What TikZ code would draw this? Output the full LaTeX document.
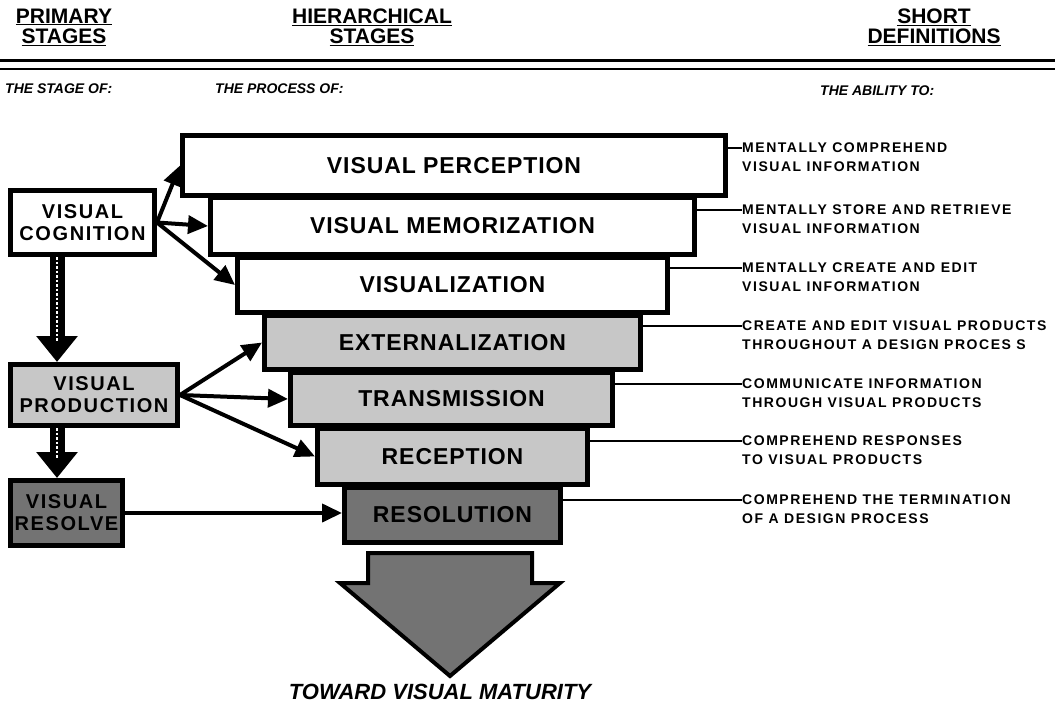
\documentclass[tikz,border=0pt]{standalone}
\usepackage{fontspec}
\setmainfont{Liberation Sans}
\newfontfamily\stagefont[LetterSpace=4]{Liberation Sans}
\newfontfamily\primfont[LetterSpace=8]{Liberation Sans}
\newfontfamily\defnfont[LetterSpace=11]{Liberation Sans}
\usetikzlibrary{arrows.meta,positioning}

\tikzset{
  stagebox/.style={draw, line width=5pt, inner sep=0pt,
    font=\stagefont\bfseries\fontsize{23pt}{23pt}\selectfont},
  primbox/.style={draw, line width=5pt, inner sep=0pt, align=center,
    font=\primfont\bfseries\fontsize{20pt}{22pt}\selectfont},
  blank/.style={fill=white},
  light/.style={fill=black!22},
  dark/.style={fill=black!55},
  defn/.style={anchor=west, align=left, inner sep=0pt,
    font=\defnfont\bfseries\fontsize{14pt}{19pt}\selectfont},
  subhead/.style={anchor=west, inner sep=0pt,
    font=\bfseries\itshape\fontsize{14pt}{14pt}\selectfont},
  head/.style={align=center, inner sep=0pt,
    font=\bfseries\fontsize{21pt}{20pt}\selectfont},
  link/.style={line width=4pt, -{Triangle[length=20pt,width=18pt]}},
  fat/.style={line width=15pt, -{Triangle[length=26pt,width=40pt]}},
  dots/.style={white, line width=2.5pt, dotted},
  tie/.style={line width=2.5pt}
}

\begin{document}
\begin{tikzpicture}[x=1pt,y=-1pt]
\useasboundingbox (0,0) rectangle (1055,709);

% headings
\node[head] (hprim) at (64,27) {\underline{PRIMARY}\\\underline{STAGES}};
\node[head] (hhier) at (372,27) {\underline{HIERARCHICAL}\\\underline{STAGES}};
\node[head] (hdef) at (934,27) {\underline{SHORT}\\\underline{DEFINITIONS}};
\draw[line width=3pt] (0,61) -- (1055,61);
\draw[line width=2pt] (0,69) -- (1055,69);
\node[subhead] (sprim) at (5,89) {THE STAGE OF:};
\node[subhead] (shier) at (215,89) {THE PROCESS OF:};
\node[subhead] (sdef) at (820,91) {THE ABILITY TO:};

% hierarchical stages
\node[stagebox, blank, minimum width=543pt, minimum height=60pt] (per) at (454,165.5) {VISUAL PERCEPTION};
\node[stagebox, blank, minimum width=484pt, minimum height=57pt] (mem) at (452.5,226) {VISUAL MEMORIZATION};
\node[stagebox, blank, minimum width=430pt, minimum height=55pt] (vis) at (452.5,285) {VISUALIZATION};
\node[stagebox, light, minimum width=376pt, minimum height=54pt] (ext) at (452.5,342.5) {EXTERNALIZATION};
\node[stagebox, light, minimum width=322pt, minimum height=53pt] (tra) at (451.5,399) {TRANSMISSION};
\node[stagebox, light, minimum width=270pt, minimum height=56pt] (rec) at (452.5,456.5) {RECEPTION};
\node[stagebox, dark, minimum width=216pt, minimum height=55pt] (reso) at (452.5,515) {RESOLUTION};

% primary stages
\node[primbox, blank, minimum width=144pt, minimum height=64pt] (cog) at (82.5,222.5) {VISUAL\\COGNITION};
\node[primbox, light, minimum width=167pt, minimum height=61pt] (prod) at (94,395) {VISUAL\\PRODUCTION};
\node[primbox, dark, minimum width=112pt, minimum height=65pt] (resv) at (66.5,513) {VISUAL\\RESOLVE};

% links
\draw[link] (cog.east) -- (per.west);
\draw[link] (cog.east) -- (mem.west);
\draw[link] (cog.east) -- (vis.west);
\draw[link] (prod.east) -- (ext.west);
\draw[link] (prod.east) -- (tra.west);
\draw[link] (prod.east) -- (rec.west);
\draw[link] (resv.east) -- (resv.east -| reso.west);

\coordinate (c1) at ([xshift=49pt]cog.south west);
\coordinate (c2) at ([xshift=49pt]prod.south west);
\draw[fat] (c1) -- (c1 |- prod.north);
\draw[dots] (c1) -- ([yshift=20pt]c1 |- prod.north);
\draw[fat] (c2) -- (c2 |- resv.north);
\draw[dots] (c2) -- ([yshift=20pt]c2 |- resv.north);

% definitions
\node[defn] (dper) at (742,157.5) {MENTALLY COMPREHEND\\VISUAL INFORMATION};
\node[defn] (dmem) at (742,219.5) {MENTALLY STORE AND RETRIEVE\\VISUAL INFORMATION};
\node[defn] (dvis) at (742,277.5) {MENTALLY CREATE AND EDIT\\VISUAL INFORMATION};
\node[defn] (dext) at (742,335.5) {CREATE AND EDIT VISUAL PRODUCTS\\THROUGHOUT A DESIGN PROCES S};
\node[defn] (dtra) at (742,393.5) {COMMUNICATE INFORMATION\\THROUGH VISUAL PRODUCTS};
\node[defn] (drec) at (742,450.5) {COMPREHEND RESPONSES\\TO VISUAL PRODUCTS};
\node[defn] (dreso) at (742,509.5) {COMPREHEND THE TERMINATION\\OF A DESIGN PROCESS};
\draw[tie] ([yshift=17.5pt]per.east) -- ([yshift=17.5pt]per.east -| dper.west);
\draw[tie] ([yshift=16pt]mem.east) -- ([yshift=16pt]mem.east -| dmem.west);
\draw[tie] ([yshift=17pt]vis.east) -- ([yshift=17pt]vis.east -| dvis.west);
\draw[tie] ([yshift=16.5pt]ext.east) -- ([yshift=16.5pt]ext.east -| dext.west);
\draw[tie] ([yshift=15pt]tra.east) -- ([yshift=15pt]tra.east -| dtra.west);
\draw[tie] ([yshift=15.5pt]rec.east) -- ([yshift=15.5pt]rec.east -| drec.west);
\draw[tie] ([yshift=15pt]reso.east) -- ([yshift=15pt]reso.east -| dreso.west);

% toward maturity
\filldraw[fill=black!55, line width=4pt, line join=miter]
  (368,553) -- (532,553) -- (532,583) -- (560,583) -- (450,676)
  -- (340,583) -- (368,583) -- cycle;
\node[font=\bfseries\itshape\fontsize{22pt}{22pt}\selectfont] (goal) at (440,692) {TOWARD VISUAL MATURITY};
\end{tikzpicture}
\end{document}
